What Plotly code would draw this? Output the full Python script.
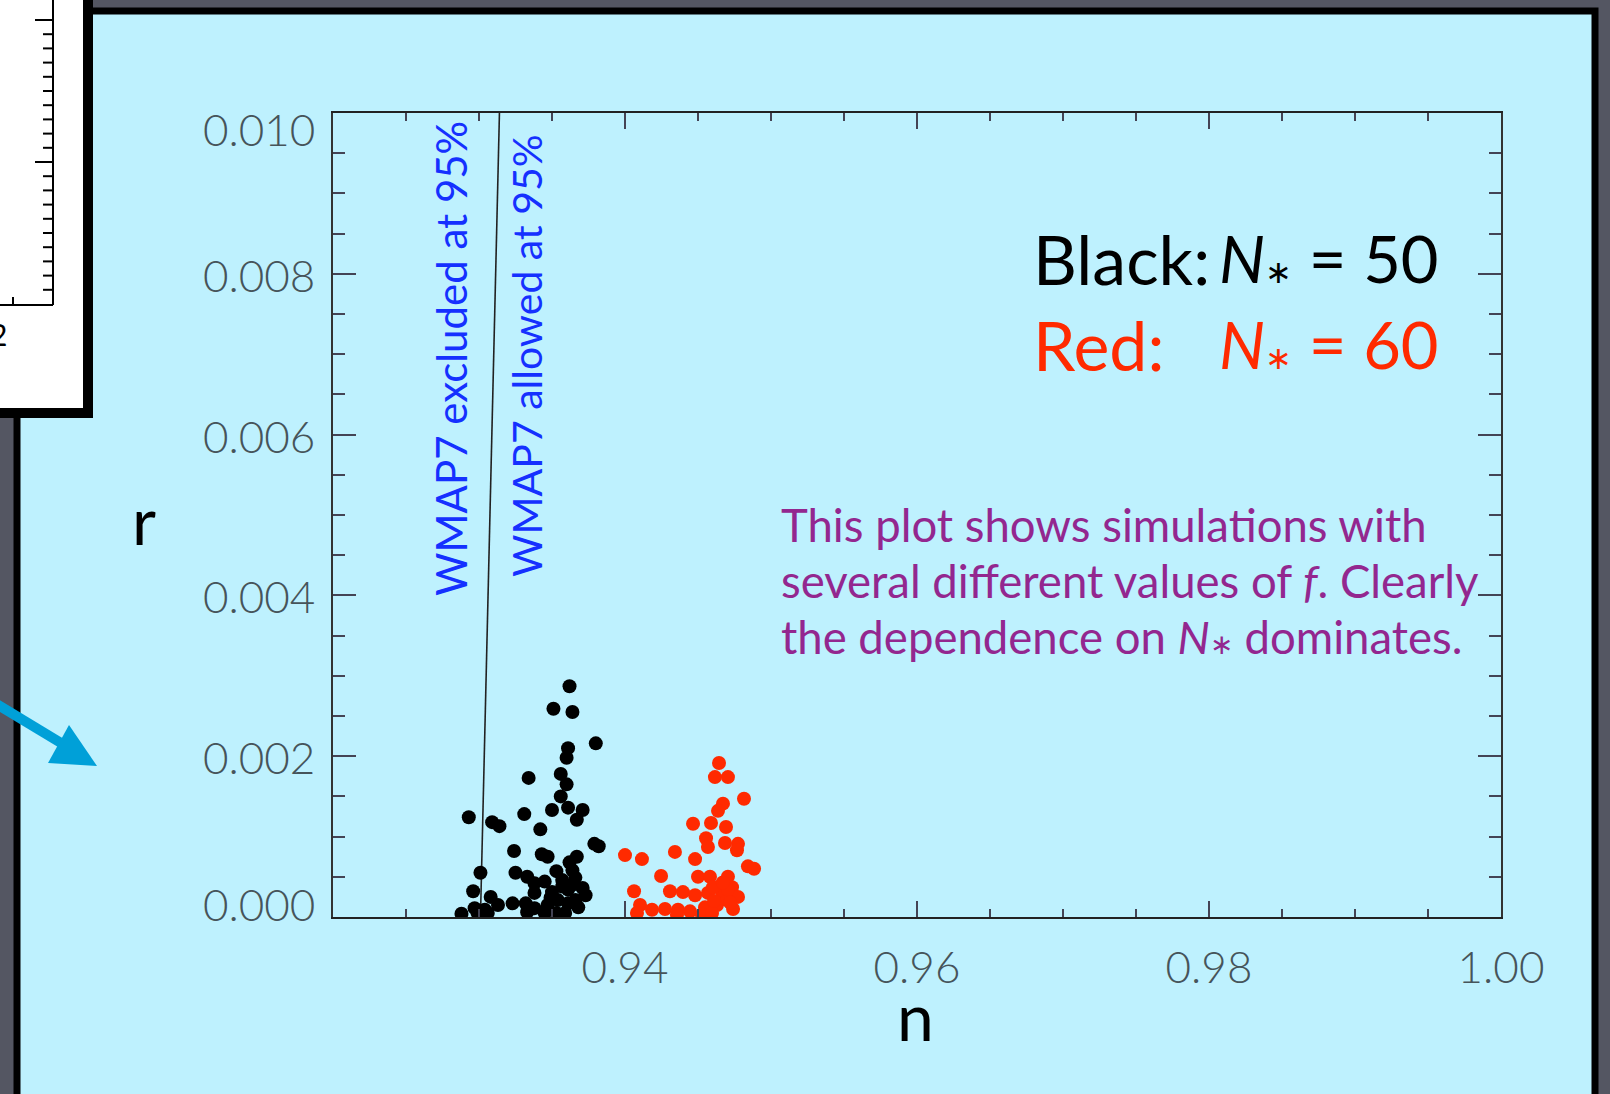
import plotly.graph_objects as go

# ---------------- data ----------------
black_n = [0.9362, 0.9351, 0.9364, 0.9380, 0.9361, 0.9360, 0.9334, 0.9356, 0.9360, 0.9356,
           0.9350, 0.9361, 0.9371, 0.9367, 0.9331, 0.9293, 0.9309, 0.9314, 0.9342, 0.9379,
           0.9382, 0.9324, 0.9343, 0.9347, 0.9367, 0.9362, 0.9353, 0.9364, 0.9301, 0.9325,
           0.9333, 0.9338, 0.9345, 0.9357, 0.9371, 0.9338, 0.9350, 0.9361, 0.9373, 0.9296,
           0.9308, 0.9313, 0.9323, 0.9297, 0.9304, 0.9332, 0.9333, 0.9338, 0.9347, 0.9354,
           0.9361, 0.9368, 0.9288, 0.9299, 0.9345, 0.9353, 0.9359, 0.9306, 0.9366, 0.9357,
           0.9366, 0.9349, 0.9364]
black_r = [0.00287, 0.00259, 0.00255, 0.00216, 0.00210, 0.00198, 0.00173, 0.00178, 0.00165, 0.00150,
           0.00133, 0.00136, 0.00133, 0.00121, 0.00128, 0.00124, 0.00118, 0.00113, 0.00109, 0.00091,
           0.00088, 0.00082, 0.00078, 0.00075, 0.00075, 0.00068, 0.00057, 0.00058, 0.00055, 0.00055,
           0.00050, 0.00042, 0.00044, 0.00046, 0.00036, 0.00030, 0.00031, 0.00034, 0.00027, 0.00032,
           0.00025, 0.00015, 0.00017, 0.00011, 0.00009, 0.00017, 0.00006, 0.00011, 0.00015, 0.00021,
           0.00017, 0.00012, 0.00004, 0.00005, 0.00005, 0.00005, 0.00005, 0.00005, 0.00021, 0.00038,
           0.00049, 0.00024, 0.00040]

red_n = [0.94644, 0.94616, 0.94705, 0.94815, 0.94671, 0.94637, 0.94466, 0.94589, 0.94692, 0.94555,
         0.94568, 0.94685, 0.94774, 0.94767, 0.94000, 0.94116, 0.94342, 0.94480, 0.94842, 0.94884,
         0.94247, 0.94500, 0.94582, 0.94705, 0.94062, 0.94308, 0.94397, 0.94480, 0.94568, 0.94637,
         0.94733, 0.94774, 0.94664, 0.94103, 0.94185, 0.94274, 0.94363, 0.94445, 0.94548, 0.94630,
         0.94740, 0.94082, 0.94356, 0.94527, 0.94596, 0.94699, 0.94705, 0.94603, 0.94670, 0.94610,
         0.94720]
red_r = [0.001915, 0.00174, 0.00174, 0.00147, 0.00141, 0.00132, 0.00116, 0.00117, 0.00112, 0.00098,
         0.00087, 0.00092, 0.00091, 0.00083, 0.00077, 0.00072, 0.00081, 0.00072, 0.00063, 0.00060,
         0.00051, 0.00050, 0.00050, 0.00050, 0.00032, 0.00032, 0.00031, 0.00027, 0.00030, 0.00037,
         0.00037, 0.00025, 0.00025, 0.00015, 0.00009, 0.00010, 0.00009, 0.00007, 0.00012, 0.00015,
         0.00010, 0.00005, 0.00003, 0.00003, 0.00005, 0.00021, 0.00034, 0.00037, 0.00043, 0.00020,
         0.00018]

wmap_n = [0.9301, 0.9314]
wmap_r = [0.0, 0.010]

x_tick_vals = [0.94, 0.96, 0.98, 1.00]
x_tick_text = ["0.94", "0.96", "0.98", "1.00"]
y_tick_vals = [0.000, 0.002, 0.004, 0.006, 0.008, 0.010]
y_tick_text = ["0.000", "0.002", "0.004", "0.006", "0.008", "0.010"]

# ---------------- layout geometry (pixels) ----------------
W, H = 1610, 1094
L, R, T, B = 333, 1501, 113, 917

def PX(x):
    return (x - L) / (R - L)

def PY(y):
    return (B - y) / (B - T)

BG = "rgb(84,86,98)"
CYAN = "#bef1fe"
RED = "#ff2a00"
BLUE = "#1530ff"
PURPLE = "#93278f"
FONT = "Lato"
TICKCOL = "rgb(70,84,90)"

fig = go.Figure()

fig.add_trace(go.Scatter(x=wmap_n, y=wmap_r, mode="lines",
                         line=dict(color="#222222", width=1.6), showlegend=False, hoverinfo="skip"))
fig.add_trace(go.Scatter(x=black_n, y=black_r, mode="markers",
                         marker=dict(color="black", size=14, line=dict(width=0)), showlegend=False))
fig.add_trace(go.Scatter(x=red_n, y=red_r, mode="markers",
                         marker=dict(color=RED, size=14, line=dict(width=0)), showlegend=False))

shapes = []
# cyan slide panel
shapes.append(dict(type="rect", xref="paper", yref="paper", layer="below",
                   x0=PX(17), x1=PX(1595), y0=PY(11), y1=PY(1110),
                   fillcolor=CYAN, line=dict(color="black", width=7)))
# white inset panel (top-left)
shapes.append(dict(type="rect", xref="paper", yref="paper", layer="below",
                   x0=PX(-30), x1=PX(88), y0=PY(-30), y1=PY(413),
                   fillcolor="white", line=dict(color="black", width=10)))
# inset axes lines
shapes.append(dict(type="line", xref="paper", yref="paper", x0=PX(53), x1=PX(53),
                   y0=PY(-5), y1=PY(305), line=dict(color="black", width=2)))
shapes.append(dict(type="line", xref="paper", yref="paper", x0=PX(-5), x1=PX(53),
                   y0=PY(305), y1=PY(305), line=dict(color="black", width=2)))
shapes.append(dict(type="line", xref="paper", yref="paper", x0=PX(13), x1=PX(13),
                   y0=PY(305), y1=PY(297), line=dict(color="black", width=2)))
for k in range(20):
    yy = 20 + k * 14.2
    ln = 18 if k % 10 == 0 else 10
    shapes.append(dict(type="line", xref="paper", yref="paper", x0=PX(53 - ln), x1=PX(53),
                       y0=PY(yy), y1=PY(yy), line=dict(color="black", width=2)))
# blue arrow
shapes.append(dict(type="line", xref="paper", yref="paper", x0=PX(-10), y0=PY(700),
                   x1=PX(66), y1=PY(746), line=dict(color="#00a0d8", width=10)))
shapes.append(dict(type="path", xref="paper", yref="paper",
                   path="M {} {} L {} {} L {} {} Z".format(PX(97), PY(766), PX(69), PY(725), PX(48), PY(763)),
                   fillcolor="#00a0d8", line=dict(width=0)))

annotations = []

def txt(text, x, y, size, color, xanchor="center", yanchor="middle", angle=0, family=FONT):
    annotations.append(dict(text=text, x=PX(x), y=PY(y), xref="paper", yref="paper",
                            showarrow=False, xanchor=xanchor, yanchor=yanchor, textangle=angle,
                            font=dict(family=family, size=size, color=color)))

star = '<span style="font-size:32px">\u2217</span>'
txt("Black:", 1031, 258, 68, "black", xanchor="left")
txt("<i>N</i>" + star + " = 50", 1441, 258, 65, "black", xanchor="right")
txt("Red:", 1031, 344, 68, RED, xanchor="left")
txt("<i>N</i>" + star + " = 60", 1441, 344, 65, RED, xanchor="right")

txt("This plot shows simulations with", 779, 524, 45.5, PURPLE, xanchor="left")
txt("several different values of <i>f</i>. Clearly", 779, 580, 45.5, PURPLE, xanchor="left")
txt("the dependence on <i>N</i>" + '<span style="font-size:28px">\u2217</span>' + " dominates.",
    779, 636, 45.5, PURPLE, xanchor="left")

txt("WMAP7 excluded at 95%", 451, 359, 42, BLUE, angle=-90)
txt("WMAP7 allowed at 95%", 526, 356, 41, BLUE, angle=-90)

txt("r", 144, 519, 66, "black")
txt("n", 915, 1015, 66, "black")
txt("2", -2, 334, 30, "black")

# y tick labels (end labels pulled inside the axis span, as in the original)
y_label_shift = {0.000: 13, 0.010: -16}
for v, t in zip(y_tick_vals, y_tick_text):
    annotations.append(dict(text=t, x=PX(317), y=v, xref="paper", yref="y",
                            showarrow=False, xanchor="right", yanchor="middle",
                            yshift=y_label_shift.get(v, -1),
                            font=dict(family=FONT, size=44, color=TICKCOL, weight=300)))

tickfont = dict(family=FONT, size=44, color=TICKCOL, weight=300)

fig.update_layout(
    width=W, height=H, autosize=False,
    margin=dict(l=L, r=W - R, t=T, b=H - B, pad=0),
    paper_bgcolor=BG, plot_bgcolor="rgba(0,0,0,0)",
    shapes=shapes, annotations=annotations,
    xaxis=dict(range=[0.92, 1.00], tickvals=x_tick_vals, ticktext=x_tick_text,
               showgrid=False, zeroline=False, showline=True, linecolor="#222", linewidth=1.5,
               mirror="ticks", ticks="inside", ticklen=16, tickwidth=1.5, tickcolor="#445",
               tickfont=tickfont, ticklabelstandoff=11,
               minor=dict(ticks="inside", ticklen=8, tickwidth=1.5, tickcolor="#445",
                          dtick=0.005, tick0=0.92, showgrid=False)),
    yaxis=dict(range=[0.0, 0.010], tickvals=y_tick_vals, showticklabels=False,
               showgrid=False, zeroline=False, showline=True, linecolor="#333", linewidth=1.5,
               mirror="ticks", ticks="inside", ticklen=23, tickwidth=1.5, tickcolor="#445",
               minor=dict(ticks="inside", ticklen=12, tickwidth=1.5, tickcolor="#445",
                          dtick=0.0005, tick0=0.0, showgrid=False)),
)

fig.write_html("out.html", config={"displayModeBar": False},
               post_script="document.body.style.margin='0';document.body.style.overflow='hidden';")
